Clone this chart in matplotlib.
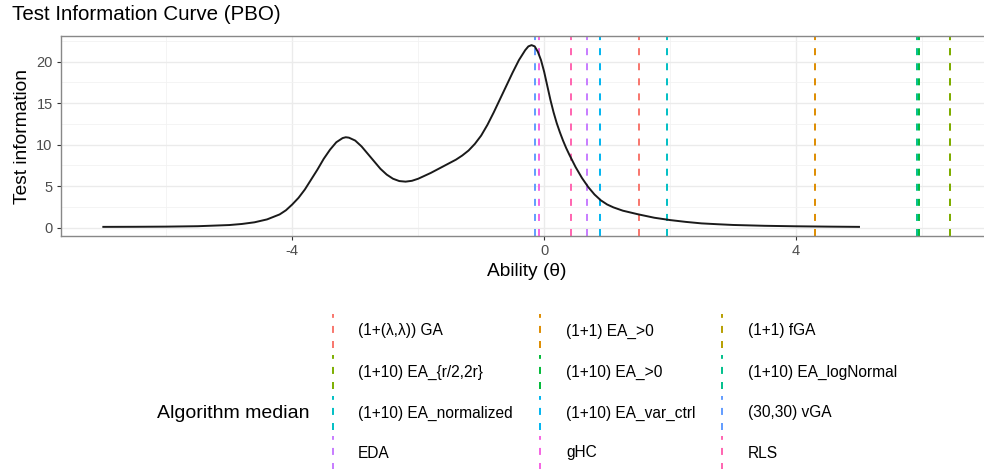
import matplotlib
matplotlib.use('Agg')
import matplotlib.pyplot as plt
from matplotlib.lines import Line2D

plt.rcParams['font.family'] = ['Liberation Sans', 'DejaVu Sans']
plt.rcParams['axes.unicode_minus'] = False

# test information curve
theta = [-7.0, -6.5, -6.0, -5.5, -5.0, -4.8, -4.6, -4.4, -4.2, -4.1, -4.0, -3.9,
         -3.8, -3.7, -3.6, -3.5, -3.4, -3.3, -3.2, -3.15, -3.1, -3.0, -2.9, -2.8,
         -2.7, -2.6, -2.5, -2.4, -2.3, -2.2, -2.1, -2.0, -1.8, -1.6, -1.4, -1.3,
         -1.2, -1.1, -1.0, -0.9, -0.8, -0.7, -0.6, -0.5, -0.4, -0.3, -0.25, -0.2,
         -0.15, -0.1, -0.05, 0.0, 0.05, 0.1, 0.15, 0.2, 0.25, 0.3, 0.35, 0.4,
         0.5, 0.6, 0.7, 0.8, 0.9, 1.0, 1.1, 1.25, 1.5, 1.75, 2.0, 2.25, 2.5,
         2.75, 3.0, 3.5, 4.0, 4.5, 5.0]
info = [0.10, 0.11, 0.13, 0.18, 0.32, 0.45, 0.65, 1.0, 1.6, 2.1, 2.8, 3.6,
        4.6, 5.8, 7.0, 8.3, 9.4, 10.3, 10.8, 10.9, 10.85, 10.5, 9.8, 8.9,
        8.0, 7.1, 6.4, 5.9, 5.62, 5.55, 5.65, 5.9, 6.6, 7.4, 8.2, 8.7,
        9.3, 10.1, 11.1, 12.4, 13.9, 15.5, 17.1, 18.7, 20.2, 21.4, 21.85, 22.0,
        21.85, 21.2, 20.2, 18.8, 17.1, 15.4, 13.9, 12.6, 11.5, 10.5, 9.6, 8.8,
        7.3, 6.0, 4.9, 4.0, 3.3, 2.8, 2.45, 2.05, 1.6, 1.2, 0.92, 0.7, 0.52,
        0.42, 0.33, 0.23, 0.17, 0.13, 0.10]

algorithms = ['(1+(λ,λ)) GA', '(1+1) EA_>0', '(1+1) fGA',
              '(1+10) EA_{r/2,2r}', '(1+10) EA_>0', '(1+10) EA_logNormal',
              '(1+10) EA_normalized', '(1+10) EA_var_ctrl', '(30,30) vGA',
              'EDA', 'gHC', 'RLS']
medians = [1.50, 4.30, 6.44, 6.44, 5.945, 5.925, 1.95, 0.89, -0.15, 0.68, -0.08, 0.42]
colors = ['#F8766D', '#DE8C00', '#B79F00', '#7CAE00', '#00BA38', '#00C08B',
          '#00BFC4', '#00B4F0', '#619CFF', '#C77CFF', '#F564E3', '#FF64B0']

W, H = 984, 469
LW = 1.4
DASH = (3.6, 4.15)

fig = plt.figure(figsize=(W / 100, H / 100), dpi=100)
fig.patch.set_facecolor('white')

# panel runs past the right edge like in the reference crop
ax = fig.add_axes([61 / W, 1 - 236 / H, (992 - 61) / W, 200 / H])
ax.set_xlim(-7.672, 7.112)
ax.set_ylim(-1.0, 23.1)

ax.set_xticks([-4, 0, 4])
ax.set_xticks([-6, -2, 2, 6], minor=True)
ax.set_yticks([0, 5, 10, 15, 20])
ax.set_yticks([2.5, 7.5, 12.5, 17.5, 22.5], minor=True)
ax.grid(which='major', color='#EBEBEB', lw=1.0)
ax.grid(which='minor', color='#F2F2F2', lw=0.6)
ax.set_axisbelow(True)
ax.tick_params(which='major', length=3, width=0.8, color='#333333',
               labelsize=10.5, labelcolor='#4D4D4D', pad=3)
ax.tick_params(which='minor', length=0)
for s in ax.spines.values():
    s.set_color('#888888')
    s.set_linewidth(1.0)

for m, c in zip(medians, colors):
    ln = ax.axvline(m, color=c, lw=LW, zorder=2)
    ln.set_dashes(DASH)

ax.plot(theta, info, color='#1a1a1a', lw=1.4, zorder=3)

ax.set_xlabel('Ability (θ)', fontsize=13.8, labelpad=3)
ax.set_ylabel('Test information', fontsize=13.8, labelpad=4)

fig.text(12 / W, 1 - 19.5 / H, 'Test Information Curve (PBO)', fontsize=14.8,
         ha='left', va='baseline')

# legend, drawn on an overlay in pixel units
lax = fig.add_axes([0, 0, 1, 1])
lax.set_xlim(0, W)
lax.set_ylim(H, 0)
lax.axis('off')
lax.patch.set_visible(False)

col_key = [333, 540, 722]
col_txt = [358, 566, 748]
row_y = [331, 372, 413, 453]
for i, (name, c) in enumerate(zip(algorithms, colors)):
    r, k = divmod(i, 3)
    y = row_y[r]
    key = Line2D([col_key[k], col_key[k]], [y + 17, y - 17], color=c, lw=LW)
    key.set_dashes(DASH)
    lax.add_line(key)
    lax.text(col_txt[k], y, name, fontsize=11.2, ha='left', va='center')

lax.text(157, 413, 'Algorithm median', fontsize=14, ha='left', va='center')

fig.savefig('out.png', dpi=100)
